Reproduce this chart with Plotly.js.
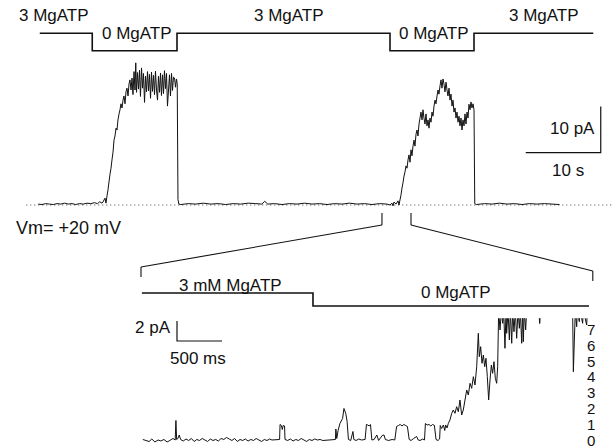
<!DOCTYPE html>
<html>
<head>
<meta charset="utf-8">
<script src="https://cdn.plot.ly/plotly-3.0.1.min.js"></script>
<style>html,body{margin:0;padding:0;background:#fff;}#chart{width:612px;height:448px;}</style>
</head>
<body>
<div id="chart"></div>
<script>
// ---------------- DATA ----------------
// Upper record: macroscopic current (pA) vs time (s)
const topTime = [1.5,2.0,2.5,3.0,3.5,4.0,4.5,5.0,5.5,6.0,6.5,7.0,7.5,8.0,8.5,9.0,9.4,9.7,10.0,
  10.13,10.4,10.53,10.67,10.8,10.93,11.07,11.2,11.33,11.47,11.6,11.73,11.87,12.0,12.13,12.27,12.4,12.53,12.67,12.8,12.93,13.07,13.2,13.33,13.47,13.6,13.73,13.87,14.0,
  14.13,14.27,14.4,14.5,14.6,14.73,14.87,15.0,15.13,15.27,15.4,15.53,15.67,15.8,15.93,16.07,16.2,16.33,16.47,16.6,16.73,16.87,17.0,17.13,17.27,17.4,17.53,17.67,17.8,17.93,18.07,18.2,18.33,18.47,18.6,18.73,18.87,19.0,19.13,19.27,19.4,19.53,19.67,19.8,19.93,20.03,20.13,20.25,
  20.5,21.5,22.5,23.5,24.5,25.5,26.5,27.5,28.5,29.5,30.5,31.3,31.7,32.1,33,34,35,36,37,38,39,40,41,42,43,44,45,46,47,48,
  48.4,48.67,48.8,48.93,49.2,49.47,49.6,49.73,49.87,50.0,50.13,50.27,50.4,50.53,50.67,50.8,50.93,51.07,51.2,51.33,51.47,51.6,51.73,51.87,52.0,52.13,52.27,52.4,52.53,52.67,52.8,52.93,53.07,53.2,53.33,53.47,53.6,53.73,53.87,54.0,54.13,54.27,54.4,54.53,54.67,54.8,54.93,55.07,55.2,55.33,55.47,55.6,55.73,55.87,56.0,56.13,56.27,56.4,56.53,56.67,56.8,56.93,57.07,57.2,57.33,57.47,57.6,57.73,57.87,58.0,58.13,58.27,58.4,58.53,58.67,58.8,58.93,59.07,59.2,59.33,59.47,59.6,59.7,
  59.9,61,62,63,64,65,66,67,68,69,70,71];
const topCurrent = [0.2,0.1,0.3,0.2,0.1,0.3,0.2,0.4,0.2,0.3,0.1,0.3,0.2,0.4,0.3,0.5,0.3,0.7,0.4,
  0.65,1.5,0.4,2.0,3.3,5.0,6.7,8.0,9.8,11.5,14.1,15.0,16.7,16.3,18.5,19.8,20.7,22.0,21.1,22.8,23.7,22.0,24.6,25.4,23.7,26.3,27.2,25.0,27.6,
  24.0,29.0,25.0,30.9,24.5,28.8,25.2,29.3,23.6,29.8,25.4,28.6,22.3,28.0,24.6,29.0,24.8,28.4,23.2,28.9,24.7,28.2,24.0,29.1,25.0,22.8,28.0,24.5,28.7,23.8,28.3,24.2,29.2,25.3,28.6,21.5,25.0,28.3,23.7,28.6,24.9,27.8,27.6,25.6,27.4,26.4,1.2,0.2,
  0.1,0.3,0.2,0.4,0.2,0.3,0.1,0.3,0.2,0.4,0.3,0.2,0.8,0.2,0.3,0.1,0.3,0.2,0.4,0.2,0.3,0.1,0.3,0.2,0.4,0.2,0.3,0.1,0.3,0.2,
  0.0,0.4,-0.2,0.65,0.2,0.9,0.0,1.1,2.2,3.7,4.8,6.3,7.2,8.5,8.0,9.8,10.9,9.3,12.0,10.7,12.8,14.1,12.8,15.4,16.3,15.0,17.6,18.9,20.2,18.5,20.7,18.9,17.6,19.8,17.2,18.5,16.7,18.9,18.0,20.2,19.3,21.5,22.8,22.0,23.7,25.0,24.1,25.9,27.2,25.4,27.4,26.3,24.6,26.7,25.0,23.7,25.4,22.8,24.1,21.5,22.8,20.2,21.1,18.9,20.2,18.0,19.3,17.2,18.9,16.3,18.5,17.2,19.8,17.6,20.2,18.9,21.9,20.7,22.4,21.1,22.0,20.7,0.3,
  0.1,0.3,0.2,0.4,0.2,0.3,0.1,0.3,0.2,0.3,0.2,0.1];

// Upper solution record: MgATP (mM) vs time (s)
const topSolTime = [1.7, 8.7, 20.0, 48.4, 59.6, 75.5];
const topSolMgATP = [3, 0, 3, 0, 3, 3];
const topSolLabels = ['3 MgATP', '0 MgATP', '3 MgATP', '0 MgATP', '3 MgATP'];

// Expanded window of the upper record (s)
const zoomWindow = [47.33, 51.2];

// Lower record: single-channel current (pA) vs time (ms)
const lowTime = [20,55,90,120,155,190,220,255,290,320,355,380,388,396,410,425,440,470,500,530,560,590,620,650,680,710,740,770,800,830,860,890,920,950,980,1010,1040,1070,1100,1130,1160,1190,1220,1250,1280,1310,1340,1370,1400,1430,1455,1540,
  1545,1560,1570,1580,1595,1600,1630,1660,1690,1720,1750,1780,1810,1840,1870,1900,1930,1960,1990,2020,2160,
  2165,2175,2190,2210,2240,2255,2275,2290,2305,2330,2355,2365,2390,2420,2450,2490,
  2505,2520,2535,2550,2565,2590,2620,2640,2680,2700,2715,2750,2790,2820,
  2840,2860,2880,2900,2920,2940,2960,2980,3000,3030,3063,3080,3100,3130,3150,
  3160,3180,3200,3220,3240,3260,3278,3300,3318,
  3325,3340,3360,3375,3385,3400,3415,3433,3452,3470,3489,3507,3526,3544,3563,3581,3600,3619,3637,3656,3674,3693,3711,3730,3748,3759,3774,3789,3804,3819,3833,3848,3863,3878,3893,3907,3922,3937,3952,3963,
  3974,3989,4004,4019,4030,4044,4056,4063,4078,4093,4104,4119,4130,4144,4159,4174,4189,4204,4215,4230,4241,4248,4259,4274,4285,
  4420,4430,4440,4796,4804,4815,4826,4841,4848,4870,4878,4907,4915,4952,4959,4985];
const lowCurrent = [0.1,0.0,-0.1,0.15,-0.15,0.05,-0.05,0.1,-0.15,0.0,0.2,0.05,2.0,0.1,0.2,0.55,0.1,-0.05,0.15,0.0,0.2,-0.1,0.1,0.0,0.2,0.05,-0.1,0.15,0.0,0.1,-0.05,0.2,0.1,0.3,0.15,0.0,0.2,-0.1,0.1,0.0,0.15,-0.05,0.1,0.0,0.2,0.05,-0.1,0.1,0.0,0.15,0.05,0.1,
  1.6,1.5,1.1,1.5,1.45,0.1,0.0,0.15,-0.05,0.1,0.0,0.2,0.05,-0.1,0.1,0.0,0.15,0.05,0.1,0.0,0.1,
  1.15,0.2,1.0,1.7,2.2,3.2,2.7,1.9,0.1,0.0,0.9,0.1,0.0,0.15,0.05,0.1,
  1.6,1.55,1.45,1.6,0.05,0.1,0.55,0.0,0.5,0.55,0.1,0.0,0.1,0.05,
  1.4,1.5,1.6,1.45,1.6,1.5,1.4,0.1,0.0,0.2,0.4,0.05,0.0,0.15,0.05,
  1.7,1.55,1.6,1.45,1.6,1.5,0.1,0.0,0.15,
  1.5,1.2,1.55,1.0,1.55,1.25,1.72,2.05,2.72,3.05,2.72,3.38,2.88,4.05,2.55,3.05,4.05,5.05,4.55,5.72,5.22,6.38,5.55,7.38,10.72,8.38,9.38,7.72,8.55,7.38,8.22,6.38,4.05,6.05,7.55,6.72,7.88,6.22,5.72,7.38,
  13,11.05,13,11.72,13,9.22,13,10.72,13,10.05,13,9.72,13,10.88,13,10.22,13,11.22,13,9.72,13,9.88,13,11.05,13,
  13,11.7,13,13,6.88,10.05,13,11.38,13,11.88,13,11.72,13,11.55,13,13];

// Lower solution record: MgATP (mM) vs time (ms)
const lowSolTime = [10, 1911, 4978];
const lowSolMgATP = [3, 0, 0];
const lowSolLabels = ['3 mM MgATP', '0 MgATP'];

// Open-channel levels (right-hand scale)
const unitCurrent = 1.58; // pA per channel
const channelLevels = [0,1,2,3,4,5,6,7];
const levelLabels = ['0','1','2','3','4','5','6','7'];

// Scale bars
const topScale = {amp: 10, time: 10, ampLabel: '10 pA', timeLabel: '10 s'};
const lowScale = {amp: 2, time: 500, ampLabel: '2 pA', timeLabel: '500 ms'};
const vmLabel = 'Vm= +20 mV';

// ---------------- LAYOUT HELPERS ----------------
const W = 612, H = 448;
function xRange(px0, v0, ppu) { return [v0 - px0 / ppu, v0 + (W - px0) / ppu]; }
function yRange(py0, v0, ppu, topPx, botPx) { return [v0 - (botPx - py0) / ppu, v0 + (py0 - topPx) / ppu]; }
function P(px, py) { return {x: px / W, y: 1 - py / H}; }
const topX = {px0: 27, ppu: 7.5};          // px per s
const topY = {py0: 205, ppu: 4.6};         // px per pA
const lowX = {px0: 141, ppu: 0.09};        // px per ms
const lowY = {py0: 440.5, ppu: 10, top: 318.3}; // px per pA
const tx = t => topX.px0 + topX.ppu * t;

const FONT = {family: 'Liberation Sans, Arial, sans-serif', size: 17, color: '#111'};
const INK = '#111';

const traces = [];
// dotted zero line
traces.push({x: [-0.1, 78], y: [0, 0], xaxis: 'x', yaxis: 'y', mode: 'lines',
  line: {color: '#444', width: 1, dash: '1px,3px'}, hoverinfo: 'skip'});
traces.push({x: topTime, y: topCurrent, xaxis: 'x', yaxis: 'y', mode: 'lines',
  line: {color: INK, width: 1, simplify: false}});
traces.push({x: topSolTime, y: topSolMgATP, xaxis: 'x', yaxis: 'y3', mode: 'lines',
  line: {color: INK, width: 1.6, shape: 'hv'}});
traces.push({x: lowTime, y: lowCurrent, xaxis: 'x2', yaxis: 'y2', mode: 'lines',
  line: {color: INK, width: 1, simplify: false}});
traces.push({x: lowSolTime, y: lowSolMgATP, xaxis: 'x2', yaxis: 'y4', mode: 'lines',
  line: {color: INK, width: 1.6, shape: 'hv'}});

// scale bars (corner positions)
const topCorner = {t: 76.5, i: 11.4};
traces.push({x: [topCorner.t - topScale.time, topCorner.t, topCorner.t],
  y: [topCorner.i, topCorner.i, topCorner.i + topScale.amp], xaxis: 'x', yaxis: 'y', mode: 'lines',
  line: {color: INK, width: 1.2}});
const lowCorner = {t: 400, i: 9.95};
traces.push({x: [lowCorner.t, lowCorner.t, lowCorner.t + lowScale.time],
  y: [lowCorner.i + lowScale.amp, lowCorner.i, lowCorner.i], xaxis: 'x2', yaxis: 'y2', mode: 'lines',
  line: {color: INK, width: 1.2}});

// bracket linking expanded window
const zx0 = tx(zoomWindow[0]), zx1 = tx(zoomWindow[1]);
const lowStartPx = lowX.px0, lowEndPx = lowX.px0 + lowX.ppu * 5020;
const bracket = [
  [[zx0, 213], [zx0, 225], [lowStartPx, 267], [lowStartPx, 277]],
  [[zx1, 213], [zx1, 225], [lowEndPx, 271], [lowEndPx, 281]]
];
const shapes = [];
bracket.forEach(seg => {
  for (let k = 0; k < seg.length - 1; k++) {
    const a = P(seg[k][0], seg[k][1]), b = P(seg[k + 1][0], seg[k + 1][1]);
    shapes.push({type: 'line', xref: 'paper', yref: 'paper', x0: a.x, y0: a.y, x1: b.x, y1: b.y,
      line: {color: INK, width: 1.1}});
  }
});

function ann(text, px, py, xanchor, size) {
  const p = P(px, py);
  return {text: text, x: p.x, y: p.y, xref: 'paper', yref: 'paper', showarrow: false,
    xanchor: xanchor || 'center', yanchor: 'middle',
    font: Object.assign({}, FONT, size ? {size: size} : {})};
}
const topLabelPos = [[53.5, 15.5], [136.5, 34], [289, 15.5], [433.5, 34], [543.5, 15.5]];
const annotations = topSolLabels.map((s, k) => ann(s, topLabelPos[k][0], topLabelPos[k][1]));
annotations.push(ann(topScale.ampLabel, 572, 128.5));
annotations.push(ann(topScale.timeLabel, 568, 170));
annotations.push(ann(vmLabel, 14, 228, 'left', 18));
annotations.push(ann(lowSolLabels[0], 230, 285));
annotations.push(ann(lowSolLabels[1], 456, 292));
annotations.push(ann(lowScale.ampLabel, 173, 327, 'right'));
annotations.push(ann(lowScale.timeLabel, 198, 358));
// channel-level labels on the right, placed on the lower record's current axis
channelLevels.forEach((k, idx) => {
  annotations.push({text: levelLabels[idx], x: 586 / W, xref: 'paper', y: k * unitCurrent + 0.05, yref: 'y2',
    showarrow: false, xanchor: 'left', yanchor: 'middle', borderpad: 0,
    font: Object.assign({}, FONT, {size: 15})});
});

const hidden = {visible: false, fixedrange: true, autorange: false};
const layout = {
  width: W, height: H, autosize: false,
  margin: {l: 0, r: 0, t: 0, b: 0, pad: 0},
  paper_bgcolor: '#fff', plot_bgcolor: 'rgba(0,0,0,0)',
  showlegend: false,
  xaxis: Object.assign({}, hidden, {domain: [0, 1], anchor: 'y', range: xRange(topX.px0, 0, topX.ppu)}),
  yaxis: Object.assign({}, hidden, {domain: [0, 1], anchor: 'x', range: yRange(topY.py0, 0, topY.ppu, 0, H)}),
  yaxis3: Object.assign({}, hidden, {domain: [0, 1], anchor: 'x', overlaying: 'y', range: yRange(50.7, 0, 5.8, 0, H)}),
  xaxis2: Object.assign({}, hidden, {domain: [0, 1], anchor: 'y2', range: xRange(lowX.px0, 0, lowX.ppu)}),
  yaxis2: Object.assign({}, hidden, {domain: [0, (H - lowY.top) / H], anchor: 'x2',
    range: yRange(lowY.py0, 0, lowY.ppu, lowY.top, H)}),
  yaxis4: Object.assign({}, hidden, {domain: [0, 1], anchor: 'x2', range: yRange(306, 0, 13 / 3, 0, H)}),
  shapes: shapes,
  annotations: annotations
};
Plotly.newPlot('chart', traces, layout, {staticPlot: true, displayModeBar: false});
</script>
</body>
</html>
